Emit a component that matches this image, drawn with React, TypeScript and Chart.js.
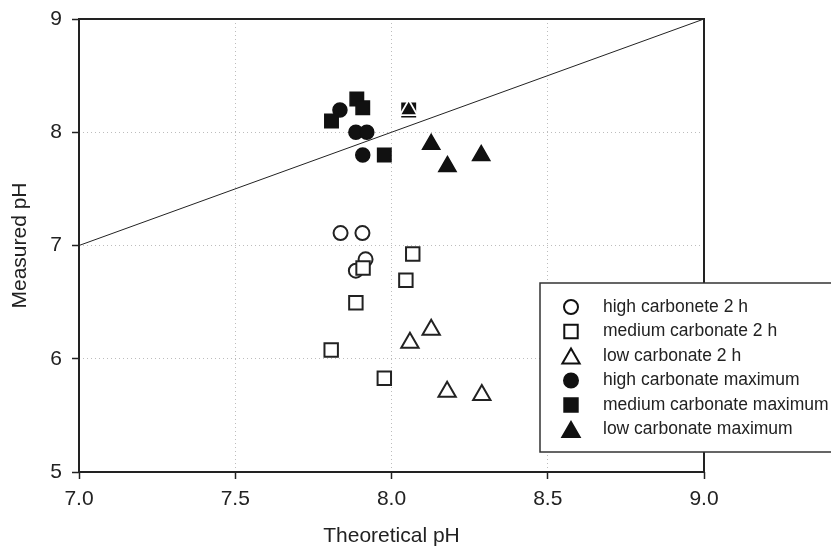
import React, { useEffect, useRef } from 'react';
import { Chart, registerables } from 'chart.js';

Chart.register(...registerables);

// ---- data (theoretical pH = x, measured pH = y) ----
const highCarb2hX = [7.837, 7.907, 7.917, 7.886];
const highCarb2hY = [7.11, 7.11, 6.878, 6.778];
const medCarb2hX = [7.909, 8.068, 8.046, 7.886, 7.807, 7.977];
const medCarb2hY = [6.801, 6.925, 6.693, 6.495, 6.077, 5.827];
const lowCarb2hX = [8.127, 8.059, 8.178, 8.289];
const lowCarb2hY = [6.256, 6.141, 5.708, 5.68];
const highCarbMaxX = [7.835, 7.886, 7.921, 7.908];
const highCarbMaxY = [8.196, 8.0, 8.0, 7.799];
const medCarbMaxX = [7.889, 7.908, 7.808, 7.977, 8.055];
const medCarbMaxY = [8.294, 8.217, 8.099, 7.799, 8.196];
const lowCarbMaxX = [8.055, 8.127, 8.179, 8.287];
const lowCarbMaxY = [8.196, 7.894, 7.698, 7.795];
const identityX = [7, 9];
const identityY = [7, 9];

const seriesLabels = [
  'high carbonete 2 h',
  'medium carbonate 2 h',
  'low carbonate 2 h',
  'high carbonate maximum',
  'medium carbonate maximum',
  'low carbonate maximum',
];
const xTitle = 'Theoretical pH';
const yTitle = 'Measured pH';

const FONT = '"Liberation Sans", Arial, Helvetica, sans-serif';
const INK = '#222';

const pts = (xs: number[], ys: number[]) => xs.map((x, i) => ({ x, y: ys[i] }));

function drawSymbol(ctx: CanvasRenderingContext2D, style: string, x: number, y: number, r: number, fill: string, stroke: string, lw: number) {
  ctx.beginPath();
  if (style === 'circle') {
    ctx.arc(x, y, r, 0, Math.PI * 2);
  } else if (style === 'rect') {
    const s = r * Math.SQRT1_2;
    ctx.rect(x - s, y - s, 2 * s, 2 * s);
  } else {
    ctx.moveTo(x, y - r);
    ctx.lineTo(x + r * 0.866, y + r / 2);
    ctx.lineTo(x - r * 0.866, y + r / 2);
    ctx.closePath();
  }
  ctx.fillStyle = fill;
  ctx.fill();
  if (lw > 0) {
    ctx.lineWidth = lw;
    ctx.strokeStyle = stroke;
    ctx.stroke();
  }
}

const decorPlugin = {
  id: 'decor',
  afterDraw(chart: any) {
    const ctx: CanvasRenderingContext2D = chart.ctx;
    const { left, right, top, bottom } = chart.chartArea;
    ctx.save();
    // frame
    ctx.strokeStyle = INK;
    ctx.lineWidth = 2;
    ctx.strokeRect(left, top, right - left, bottom - top);

    // legend box
    const bx = 540, by = 283, bw = 320, bh = 169;
    ctx.fillStyle = '#fff';
    ctx.fillRect(bx, by, bw, bh);
    ctx.strokeStyle = '#333';
    ctx.lineWidth = 1.5;
    ctx.strokeRect(bx, by, bw, bh);

    const ds = chart.data.datasets.filter((d: any) => d.legendIdx !== undefined);
    ds.sort((a: any, b: any) => a.legendIdx - b.legendIdx);
    ds.forEach((d: any, i: number) => {
      const ry = 307 + i * 24.5;
      const style = d.pointStyle;
      const r = d.pointRadius;
      const fill = d.legendFill;
      const cy = style === 'triangle' ? ry + r / 4 : ry;
      drawSymbol(ctx, style, 571, cy, r, fill, '#111', 2);
      ctx.fillStyle = INK;
      ctx.font = `17.5px ${FONT}`;
      ctx.textAlign = 'left';
      ctx.textBaseline = 'middle';
      ctx.fillText(d.label, 603, ry);
    });
    ctx.restore();
  },
};

export default function App() {
  const ref = useRef<HTMLCanvasElement>(null);

  useEffect(() => {
    if (!ref.current) return;
    const open = '#ffffff';
    const solid = '#111111';
    const chart = new Chart(ref.current, {
      type: 'scatter',
      data: {
        datasets: [
          {
            type: 'line',
            label: 'y = x',
            data: pts(identityX, identityY),
            borderColor: INK,
            borderWidth: 1,
            pointRadius: 0,
            fill: false,
            order: 10,
          } as any,
          {
            label: seriesLabels[0], legendIdx: 0, legendFill: open,
            data: pts(highCarb2hX, highCarb2hY),
            pointStyle: 'circle', pointRadius: 7,
            backgroundColor: open, borderColor: INK, borderWidth: 2,
            order: 6,
          } as any,
          {
            label: seriesLabels[1], legendIdx: 1, legendFill: open,
            data: pts(medCarb2hX, medCarb2hY),
            pointStyle: 'rect', pointRadius: 9.5,
            backgroundColor: open, borderColor: INK, borderWidth: 2,
            order: 5,
          } as any,
          {
            label: seriesLabels[2], legendIdx: 2, legendFill: open,
            data: pts(lowCarb2hX, lowCarb2hY),
            pointStyle: 'triangle', pointRadius: 10,
            backgroundColor: open, borderColor: INK, borderWidth: 2,
            order: 4,
          } as any,
          {
            label: seriesLabels[3], legendIdx: 3, legendFill: solid,
            data: pts(highCarbMaxX, highCarbMaxY),
            pointStyle: 'circle', pointRadius: 7,
            backgroundColor: solid, borderColor: solid, borderWidth: 1.5,
            order: 3,
          } as any,
          {
            label: seriesLabels[4], legendIdx: 4, legendFill: solid,
            data: pts(medCarbMaxX, medCarbMaxY),
            pointStyle: 'rect', pointRadius: 9.5,
            backgroundColor: solid, borderColor: solid, borderWidth: 1.5,
            order: 2,
          } as any,
          {
            label: seriesLabels[5], legendIdx: 5, legendFill: solid,
            data: pts(lowCarbMaxX, lowCarbMaxY),
            pointStyle: 'triangle', pointRadius: 10,
            backgroundColor: solid,
            borderColor: ['#ffffff', solid, solid, solid],
            borderWidth: [1.8, 1.5, 1.5, 1.5],
            order: 1,
          } as any,
        ],
      },
      options: {
        responsive: false,
        animation: false,
        events: [],
        layout: { padding: { top: 19, right: 127, left: 0, bottom: 0 } },
        plugins: {
          legend: { display: false },
          tooltip: { enabled: false },
        },
        scales: {
          x: {
            type: 'linear',
            min: 7,
            max: 9,
            afterFit: (s: any) => { s.height = 78; s.paddingLeft = 0; s.paddingRight = 0; },
            title: {
              display: true,
              text: xTitle,
              color: INK,
              font: { family: FONT, size: 21 },
              padding: { top: 0, bottom: 1 },
            },
            ticks: {
              stepSize: 0.5,
              callback: (v: any) => Number(v).toFixed(1),
              font: { family: FONT, size: 21 },
              color: INK,
              padding: 8,
            },
            grid: {
              color: (c: any) => (c.tick && (c.tick.value === 7 || c.tick.value === 9) ? 'rgba(0,0,0,0)' : '#bdbdbd'),
              lineWidth: 1,
              tickColor: INK,
              tickWidth: 1.5,
              tickLength: 7,
            },
            border: { display: false, dash: [1, 3] },
          },
          y: {
            type: 'linear',
            min: 5,
            max: 9,
            afterFit: (s: any) => { s.width = 79; s.paddingTop = 0; s.paddingBottom = 0; },
            title: {
              display: true,
              text: yTitle,
              color: INK,
              font: { family: FONT, size: 21 },
              padding: { top: 8, bottom: 0 },
            },
            ticks: {
              stepSize: 1,
              font: { family: FONT, size: 21 },
              color: INK,
              padding: 10,
            },
            grid: {
              color: (c: any) => (c.tick && (c.tick.value === 5 || c.tick.value === 9) ? 'rgba(0,0,0,0)' : '#bdbdbd'),
              lineWidth: 1,
              tickColor: INK,
              tickWidth: 1.5,
              tickLength: 7,
            },
            border: { display: false, dash: [1, 3] },
          },
        },
      } as any,
      plugins: [decorPlugin],
    });
    return () => chart.destroy();
  }, []);

  return (
    <div style={{ position: 'absolute', left: 0, top: 0, width: 831, height: 550, background: '#fff' }}>
      <canvas ref={ref} width={831} height={550} />
    </div>
  );
}
